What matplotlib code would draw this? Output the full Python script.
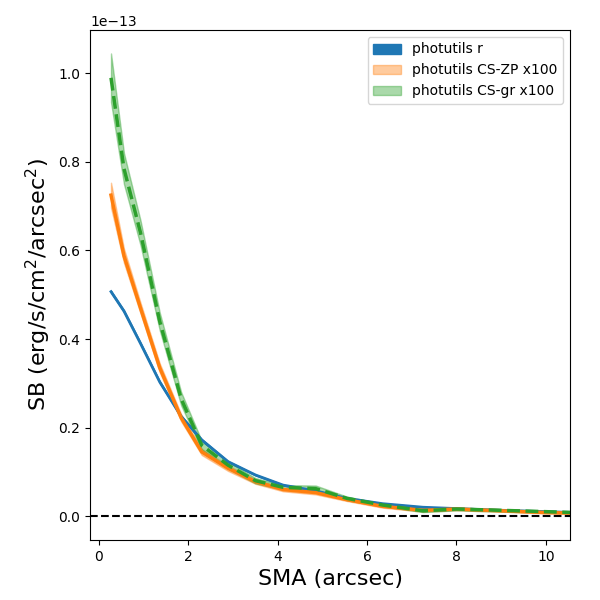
import numpy as np
import matplotlib
matplotlib.use("Agg")
import matplotlib.pyplot as plt

# semi-major axis (arcsec)
sma = np.array([0.27, 0.56, 0.93, 1.36, 1.84, 2.3, 2.89, 3.5, 4.12, 4.85,
                5.55, 6.35, 7.25, 8.0, 9.0, 10.0, 11.0])

# surface brightness profiles (units of 1e-13 erg/s/cm^2/arcsec^2)
sb_r = np.array([0.507, 0.463, 0.39, 0.303, 0.225, 0.172, 0.123, 0.093, 0.070, 0.057,
                 0.040, 0.028, 0.020, 0.017, 0.013, 0.010, 0.007])
err_r = np.array([0.002, 0.002, 0.002, 0.002, 0.002, 0.002, 0.001, 0.001, 0.001, 0.001,
                  0.001, 0.001, 0.001, 0.001, 0.001, 0.001, 0.001])

sb_zp = np.array([0.725, 0.588, 0.47, 0.335, 0.222, 0.145, 0.108, 0.078, 0.060, 0.053,
                  0.037, 0.022, 0.013, 0.016, 0.012, 0.008, 0.006])
err_zp = np.array([0.028, 0.016, 0.012, 0.010, 0.008, 0.007, 0.006, 0.005, 0.004, 0.004,
                   0.003, 0.003, 0.003, 0.003, 0.002, 0.002, 0.002])

sb_gr = np.array([0.99, 0.785, 0.64, 0.44, 0.265, 0.16, 0.115, 0.080, 0.065, 0.062,
                  0.040, 0.025, 0.012, 0.016, 0.013, 0.010, 0.007])
err_gr = np.array([0.055, 0.035, 0.028, 0.02, 0.015, 0.01, 0.008, 0.006, 0.005, 0.007,
                   0.004, 0.003, 0.003, 0.003, 0.003, 0.002, 0.002])

scale = 1e-13

fig, ax = plt.subplots(figsize=(6, 6), dpi=100)
plt.subplots_adjust(left=0.15, right=0.95, bottom=0.1, top=0.95)

ax.fill_between(sma, (sb_r - err_r) * scale, (sb_r + err_r) * scale,
                color='C0', label='photutils r')
ax.plot(sma, sb_r * scale, color='C0', lw=2)

ax.fill_between(sma, (sb_zp - err_zp) * scale, (sb_zp + err_zp) * scale,
                color='C1', alpha=0.4, label='photutils CS-ZP x100')
ax.plot(sma, sb_zp * scale, color='C1', lw=2.5)

ax.fill_between(sma, (sb_gr - err_gr) * scale, (sb_gr + err_gr) * scale,
                color='C2', alpha=0.4, label='photutils CS-gr x100')
ax.plot(sma, sb_gr * scale, color='C2', lw=2.5, ls='--')

ax.axhline(0, color='k', ls='--', lw=1.5)

ax.set_xlim(-0.2, 10.54)
ax.set_ylim(-0.054e-13, 1.098e-13)
ax.set_xlabel('SMA (arcsec)', fontsize=16)
ax.set_ylabel(r'SB (erg/s/cm$^2$/arcsec$^2$)', fontsize=16)
ax.legend(loc='upper right')

plt.savefig('out.png')
